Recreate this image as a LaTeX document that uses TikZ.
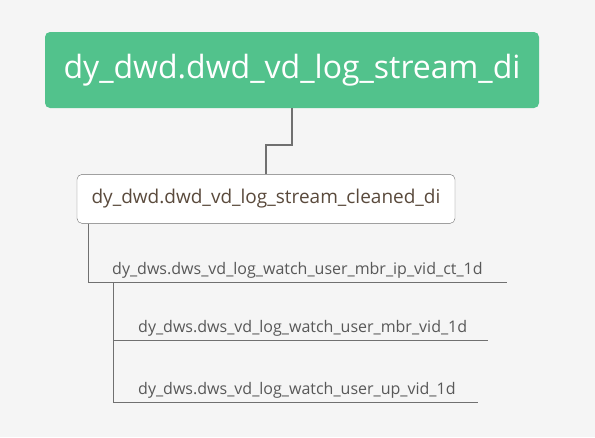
\documentclass[tikz,border=0pt]{standalone}
\usepackage{fontspec}
\setmainfont{Open Sans}
\usetikzlibrary{positioning}
\definecolor{rootgreen}{HTML}{52C28C}
\definecolor{linegrey}{HTML}{707070}
\definecolor{midtext}{HTML}{5A4A3C}
\definecolor{leaftext}{HTML}{585858}
\definecolor{paper}{HTML}{F5F5F5}

\begin{document}
\begin{tikzpicture}[x=1pt, y=-1pt,
    root/.style={rectangle, rounded corners=5pt, fill=rootgreen, text=white,
        minimum width=494pt, minimum height=76pt, font=\fontsize{32}{38}\selectfont},
    mid/.style={rectangle, rounded corners=5pt, draw=linegrey, fill=white, text=midtext,
        minimum width=378pt, minimum height=49pt, font=\fontsize{19}{23}\selectfont},
    leaf/.style={anchor=south west, inner xsep=0pt, inner ysep=7pt, text depth=0pt,
        align=left, text=leaftext, font=\fontsize{16}{19}\selectfont},
    link/.style={draw=linegrey, line width=1.6pt},
    under/.style={draw=linegrey, line width=1pt}]
    \fill[paper] (0,0) rectangle (595,437);
    \useasboundingbox (0,0) rectangle (595,437);

    \node[root] (stream) at (292,70) {dy\_dwd.dwd\_vd\_log\_stream\_di};
    \node[mid] (cleaned) [below=66pt of stream, xshift=-26pt] {dy\_dwd.dwd\_vd\_log\_stream\_cleaned\_di};

    \node[leaf, text width=419pt] (ipct) at (88,282) {\hspace*{24pt}dy\_dws.dws\_vd\_log\_watch\_user\_mbr\_ip\_vid\_ct\_1d};
    \node[leaf, text width=375pt] (mbr) at (113,340) {\hspace*{25pt}dy\_dws.dws\_vd\_log\_watch\_user\_mbr\_vid\_1d};
    \node[leaf, text width=365pt] (up) at (113,402) {\hspace*{25pt}dy\_dws.dws\_vd\_log\_watch\_user\_up\_vid\_1d};

    % root to cleaned
    \draw[link] (stream.south) -- ++(0,37) -| (cleaned.north);
    % cleaned to its child
    \draw[under] (cleaned.south west -| ipct.south west) -- (ipct.south west) -- (ipct.south east);
    % the two below
    \draw[under] (ipct.south west -| mbr.south west) -- (up.south west) -- (up.south east);
    \draw[under] (mbr.south west) -- (mbr.south east);
\end{tikzpicture}
\end{document}
